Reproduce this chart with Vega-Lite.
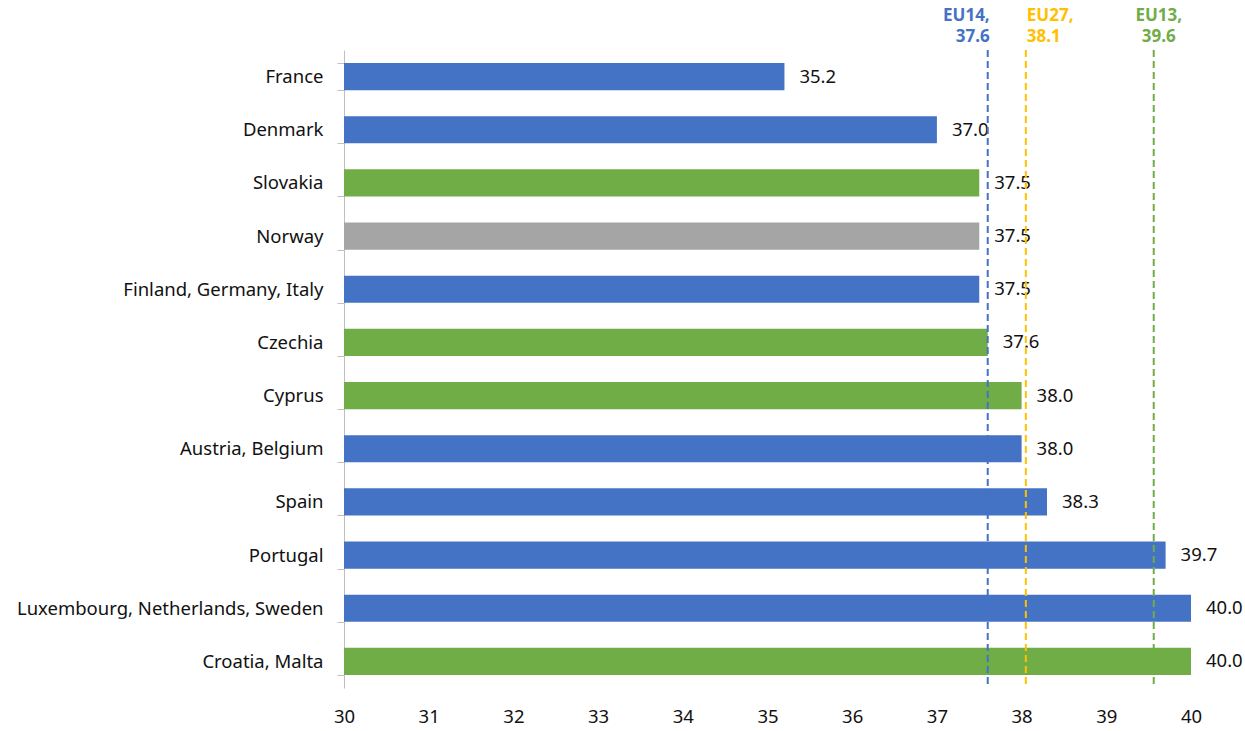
{
  "$schema": "https://vega.github.io/schema/vega-lite/v6.json",
  "autosize": {"type": "none"},
  "width": 847,
  "height": 638,
  "padding": {"left": 344, "top": 50, "right": 54, "bottom": 43},
  "background": "white",
  "config": {"view": {"stroke": null}, "font": "Noto Sans"},
  "datasets": {
    "bars": [
      {"country": "France", "hours": 35.2, "group": "EU14"},
      {"country": "Denmark", "hours": 37.0, "group": "EU14"},
      {"country": "Slovakia", "hours": 37.5, "group": "EU13"},
      {"country": "Norway", "hours": 37.5, "group": "Non-EU"},
      {"country": "Finland, Germany, Italy", "hours": 37.5, "group": "EU14"},
      {"country": "Czechia", "hours": 37.6, "group": "EU13"},
      {"country": "Cyprus", "hours": 38.0, "group": "EU13"},
      {"country": "Austria, Belgium", "hours": 38.0, "group": "EU14"},
      {"country": "Spain", "hours": 38.3, "group": "EU14"},
      {"country": "Portugal", "hours": 39.7, "group": "EU14"},
      {"country": "Luxembourg, Netherlands, Sweden", "hours": 40.0, "group": "EU14"},
      {"country": "Croatia, Malta", "hours": 40.0, "group": "EU13"}
    ],
    "refs": [
      {"name": "EU14", "value": 37.6, "label": "EU14,\n37.6"},
      {"name": "EU27", "value": 38.05, "label": "EU27,\n38.1"},
      {"name": "EU13", "value": 39.56, "label": "EU13,\n39.6"}
    ]
  },
  "layer": [
    {
      "data": {"name": "bars"},
      "mark": {"type": "bar"},
      "encoding": {
        "y": {
          "field": "country", "type": "nominal", "sort": null,
          "scale": {"paddingInner": 0.49, "paddingOuter": 0.245},
          "axis": {
            "title": null, "tickBand": "extent", "tickSize": 7, "tickColor": "#BFBFBF",
            "domainColor": "#BFBFBF", "labelFontSize": 18.5, "labelColor": "#111111",
            "labelPadding": 14, "labelFont": "Noto Sans", "labelLimit": 0
          }
        },
        "x": {
          "field": "hours", "type": "quantitative",
          "scale": {"domain": [30, 40], "nice": false, "zero": false, "clamp": true},
          "axis": {
            "title": null, "values": [30, 31, 32, 33, 34, 35, 36, 37, 38, 39, 40], "format": "d",
            "labelFlush": false, "labelOverlap": false,
            "grid": false, "domain": false, "ticks": false, "labelFontSize": 18.5,
            "labelColor": "#111111", "labelPadding": 19, "labelFont": "Noto Sans"
          }
        },
        "color": {
          "field": "group", "type": "nominal",
          "scale": {"domain": ["EU14", "EU13", "Non-EU"], "range": ["#4472C4", "#70AD47", "#A5A5A5"]},
          "legend": null
        }
      }
    },
    {
      "data": {"name": "bars"},
      "mark": {"type": "text", "align": "left", "baseline": "middle", "dx": 15, "fontSize": 18.5, "color": "#111111"},
      "encoding": {
        "y": {"field": "country", "type": "nominal", "sort": null},
        "x": {"field": "hours", "type": "quantitative"},
        "text": {"field": "hours", "type": "quantitative", "format": ".1f"}
      }
    },
    {
      "data": {"name": "refs"},
      "mark": {"type": "rule", "strokeDash": [7, 4], "strokeWidth": 2},
      "encoding": {
        "x": {"field": "value", "type": "quantitative"},
        "color": {
          "field": "name", "type": "nominal",
          "scale": {"domain": ["EU14", "EU27", "EU13"], "range": ["#4472C4", "#FFC000", "#70AD47"]},
          "legend": null
        }
      }
    },
    {
      "data": {"name": "refs"},
      "transform": [{"filter": "datum.name === 'EU14'"}],
      "mark": {"type": "text", "align": "right", "baseline": "bottom", "dx": 2, "dy": -52, "fontSize": 17, "fontWeight": "bold", "lineBreak": "\n", "lineHeight": 21, "color": "#4472C4"},
      "encoding": {
        "x": {"field": "value", "type": "quantitative"},
        "y": {"datum": "France", "type": "nominal"},
        "text": {"field": "label"}
      }
    },
    {
      "data": {"name": "refs"},
      "transform": [{"filter": "datum.name === 'EU27'"}],
      "mark": {"type": "text", "align": "left", "baseline": "bottom", "dx": 1, "dy": -52, "fontSize": 17, "fontWeight": "bold", "lineBreak": "\n", "lineHeight": 21, "color": "#FFC000"},
      "encoding": {
        "x": {"field": "value", "type": "quantitative"},
        "y": {"datum": "France", "type": "nominal"},
        "text": {"field": "label"}
      }
    },
    {
      "data": {"name": "refs"},
      "transform": [{"filter": "datum.name === 'EU13'"}],
      "mark": {"type": "text", "align": "center", "baseline": "bottom", "dx": 5, "dy": -52, "fontSize": 17, "fontWeight": "bold", "lineBreak": "\n", "lineHeight": 21, "color": "#70AD47"},
      "encoding": {
        "x": {"field": "value", "type": "quantitative"},
        "y": {"datum": "France", "type": "nominal"},
        "text": {"field": "label"}
      }
    }
  ],
  "resolve": {"scale": {"color": "independent"}}
}
